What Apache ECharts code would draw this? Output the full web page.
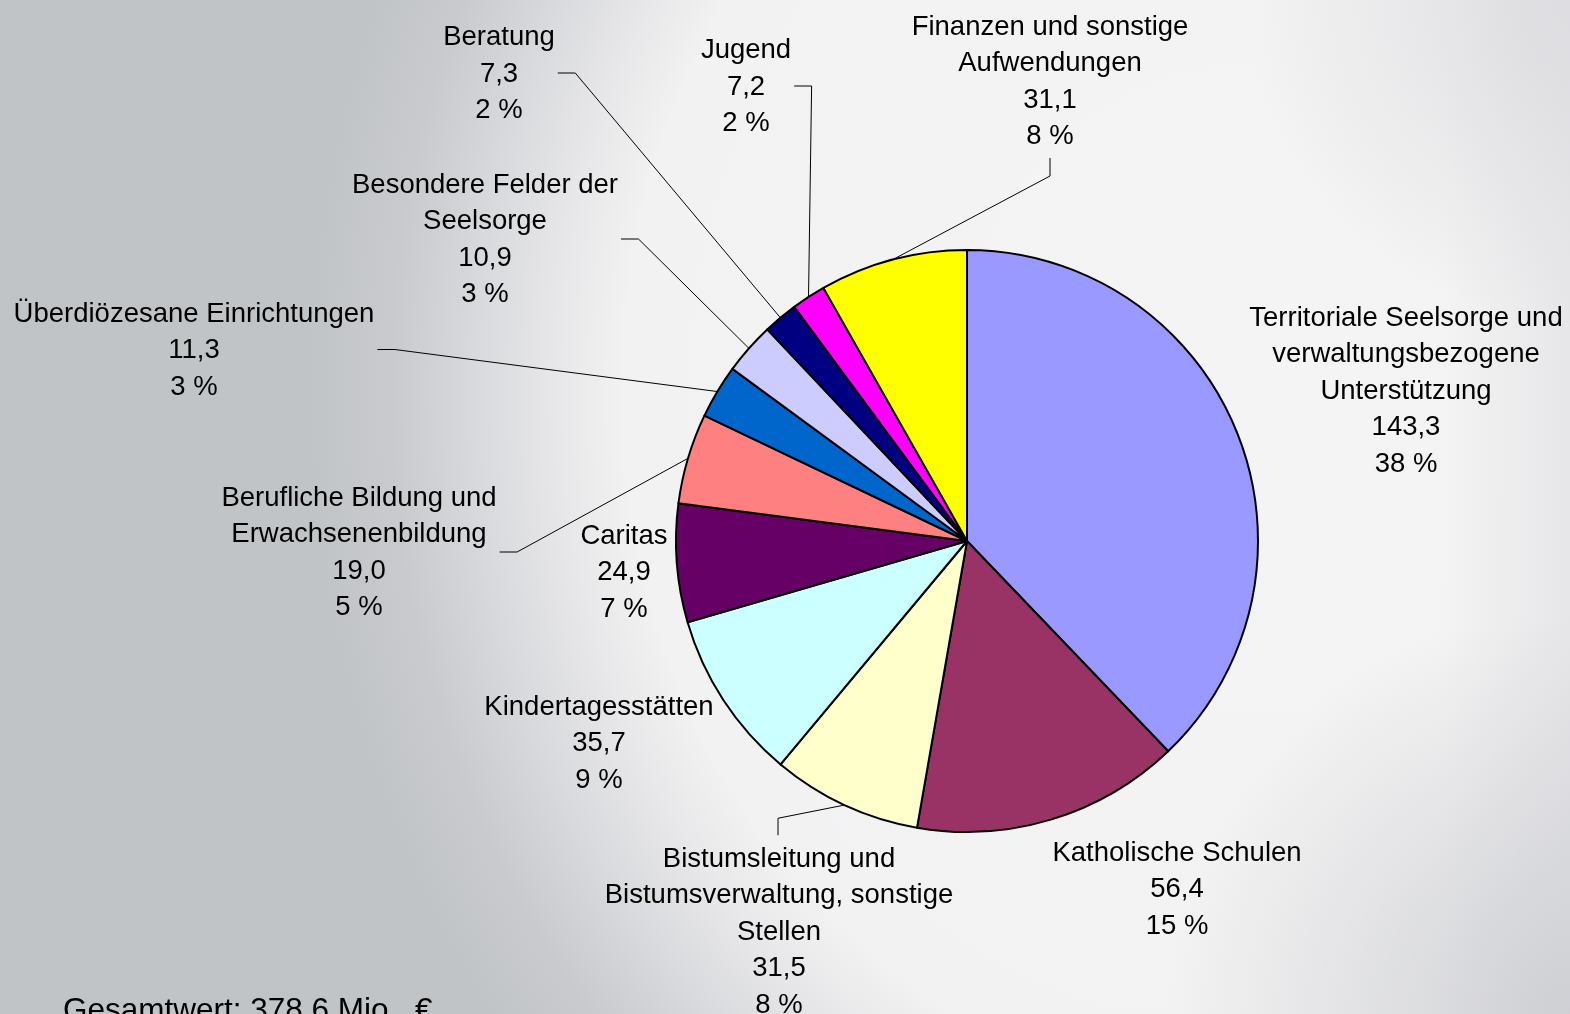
<!DOCTYPE html>
<html>
<head>
<meta charset="utf-8">
<script src="https://cdn.jsdelivr.net/npm/echarts@6/dist/echarts.min.js"></script>
<style>
html,body{margin:0;padding:0;width:1570px;height:1014px;overflow:hidden;}
#c{
  width:1570px;height:1014px;
  background:
    radial-gradient(circle at 1570px 1014px, rgba(204,205,210,0.9) 0px, rgba(204,205,210,0) 400px),
    radial-gradient(circle at 1570px 0px, rgba(220,220,224,0.9) 0px, rgba(220,220,224,0) 320px),
    linear-gradient(to right, rgba(228,228,231,0) 92%, rgba(228,228,231,0.8) 100%),
    radial-gradient(946px 1067px at 1250px 390px, #f4f4f4 0%, #f2f2f2 66%, #e8e8ea 73%, #dadbde 81%, #c8cacd 91%, #c1c4c7 100%);
}
</style>
</head>
<body>
<div id="c"></div>
<script>
// ---- data ----
const categories = [
  'Territoriale Seelsorge und\nverwaltungsbezogene\nUnterstützung',
  'Katholische Schulen',
  'Bistumsleitung und\nBistumsverwaltung, sonstige\nStellen',
  'Kindertagesstätten',
  'Caritas',
  'Berufliche Bildung und\nErwachsenenbildung',
  'Überdiözesane Einrichtungen',
  'Besondere Felder der\nSeelsorge',
  'Beratung',
  'Jugend',
  'Finanzen und sonstige\nAufwendungen'
];
const values = [143.3, 56.4, 31.5, 35.7, 24.9, 19.0, 11.3, 10.9, 7.3, 7.2, 31.1];
const totalText = 'Gesamtwert: 378,6 Mio.  €';

// ---- styles / layout ----
const sliceColors = ['#9999FF','#993366','#FFFFCC','#CCFFFF','#660066','#FF8080','#0066CC','#CCCCFF','#000080','#FF00FF','#FFFF00'];
const labelCenters = [
  [1406, 391], [1177, 889.5], [779, 932], [599, 743.5], [624, 572.5],
  [359, 553], [194, 350.5], [485, 240], [499, 74], [746, 87], [1050, 82]
];
const leaderSide = ['none','none','top','none','none','right','right','right','right','right','bottom'];

const FONT = '"Liberation Sans", Arial, Helvetica, sans-serif';
const total = values.reduce((a, b) => a + b, 0);
const fmt = v => v.toFixed(1).replace('.', ',');

const chart = echarts.init(document.getElementById('c'), null, {renderer: 'canvas'});
chart.setOption({
  backgroundColor: 'transparent',
  animation: false,
  series: [{
    type: 'pie',
    center: [967, 541],
    radius: 291,
    startAngle: 90,
    clockwise: true,
    avoidLabelOverlap: false,
    emphasis: {disabled: true},
    itemStyle: {borderColor: '#000', borderWidth: 2},
    data: categories.map((n, i) => ({
      name: n,
      value: values[i],
      itemStyle: {color: sliceColors[i]},
      labelLine: {show: leaderSide[i] !== 'none'}
    })),
    label: {
      show: true,
      position: 'outside',
      color: '#000',
      fontFamily: FONT,
      fontSize: 27.5,
      lineHeight: 36.5,
      align: 'center',
      formatter: p => p.name + '\n' + fmt(p.value) + '\n' + Math.round(p.value / total * 100) + ' %'
    },
    labelLine: {show: true, length: 10, length2: 10, lineStyle: {color: '#000', width: 1}},
    labelLayout: function (params) {
      const i = params.dataIndex;
      const cx = labelCenters[i][0], cy = labelCenters[i][1];
      const w = params.labelRect.width, h = params.labelRect.height;
      const res = {x: cx, y: cy, align: 'center', verticalAlign: 'middle', hideOverlap: false};
      const side = leaderSide[i];
      const p0 = params.labelLinePoints && params.labelLinePoints[0];
      if (p0 && side !== 'none') {
        if (side === 'right') {
          const ex = cx + w / 2 + 3, ey = cy - 1;
          res.labelLinePoints = [p0, [ex + 17.5, ey], [ex, ey]];
        } else if (side === 'bottom') {
          const ey = cy + h / 2 + 3;
          res.labelLinePoints = [p0, [cx, ey + 18], [cx, ey]];
        } else if (side === 'top') {
          const ey = cy - h / 2 - 5.5;
          res.labelLinePoints = [p0, [cx - 1, ey - 17], [cx - 1, ey]];
        }
      }
      return res;
    }
  }],
  graphic: [{
    type: 'text',
    x: 63,
    y: 1011,
    style: {
      text: totalText,
      fontFamily: FONT,
      fontSize: 31.5,
      fill: '#000',
      align: 'left',
      verticalAlign: 'middle'
    }
  }]
});
</script>
</body>
</html>
